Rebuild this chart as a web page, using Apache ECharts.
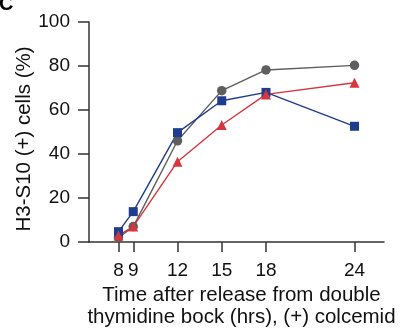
<!DOCTYPE html>
<html>
<head>
<meta charset="utf-8">
<script src="https://cdn.jsdelivr.net/npm/echarts@6/dist/echarts.min.js"></script>
<style>html,body{margin:0;padding:0;background:#fff}#c{width:400px;height:329px}</style>
</head>
<body>
<div id="c"></div>
<script>
const hours = [8, 9, 12, 15, 18, 24];
const xTicks = [8, 9, 12, 15, 18, 24];
const yTicks = [0, 20, 40, 60, 80, 100];
const grayValues = [2, 7, 46, 68.8, 78.2, 80.3];
const blueValues = [4.7, 13.8, 49.7, 64.2, 68, 52.6];
const redValues = [3, 7, 36.5, 53.2, 67.1, 72.4];

const FONT = 'Liberation Sans, Arial, sans-serif';
const toPairs = vals => hours.map((h, i) => [h, vals[i]]);

const chart = echarts.init(document.getElementById('c'));
chart.setOption({
  animation: false,
  title: {
    text: 'C', left: -1, top: -6, padding: 0,
    textStyle: { fontFamily: FONT, fontWeight: 'bold', fontSize: 20, color: '#000' }
  },
  grid: { left: 89, right: 16, top: 22, bottom: 87, containLabel: false, outerBoundsMode: 'none' },
  xAxis: {
    type: 'value', min: 6, max: 26,
    axisLine: { show: true, onZero: false, lineStyle: { color: '#333', width: 1.5 } },
    axisTick: { show: true, length: 10, lineStyle: { color: '#333', width: 1.5 }, customValues: xTicks },
    axisLabel: {
      customValues: xTicks, fontFamily: FONT, fontSize: 19, color: '#111', margin: 19
    },
    splitLine: { show: false },
    name: 'Time after release from double\nthymidine bock (hrs), (+) colcemid',
    nameLocation: 'middle', nameGap: 42, nameMoveOverlap: false,
    nameTextStyle: { fontFamily: FONT, fontSize: 20.5, color: '#111', lineHeight: 22, padding: [0, 0, 0, 10] }
  },
  yAxis: {
    type: 'value', min: 0, max: 100, interval: 20,
    axisLine: { show: true, lineStyle: { color: '#333', width: 1.5 } },
    axisTick: { show: true, length: 11, lineStyle: { color: '#333', width: 1.5 } },
    axisLabel: { fontFamily: FONT, fontSize: 19, color: '#111', margin: 19 },
    splitLine: { show: false },
    name: 'H3-S10 (+) cells (%)',
    nameLocation: 'middle', nameGap: 54, nameMoveOverlap: false,
    nameTextStyle: { fontFamily: FONT, fontSize: 20.5, color: '#111', padding: [0, 14, 0, 0] }
  },
  series: [
    {
      type: 'line', data: toPairs(grayValues), symbol: 'circle', symbolSize: 9.5,
      itemStyle: { color: '#5e5e5e' }, lineStyle: { color: '#5e5e5e', width: 1.4 }
    },
    {
      type: 'line', data: toPairs(blueValues), symbol: 'rect', symbolSize: 9,
      itemStyle: { color: '#1f3c8f' }, lineStyle: { color: '#1f3c8f', width: 1.4 }
    },
    {
      type: 'line', data: toPairs(redValues), symbol: 'triangle', symbolSize: 10,
      itemStyle: { color: '#d6373f' }, lineStyle: { color: '#d6373f', width: 1.4 }
    }
  ]
});
</script>
</body>
</html>
